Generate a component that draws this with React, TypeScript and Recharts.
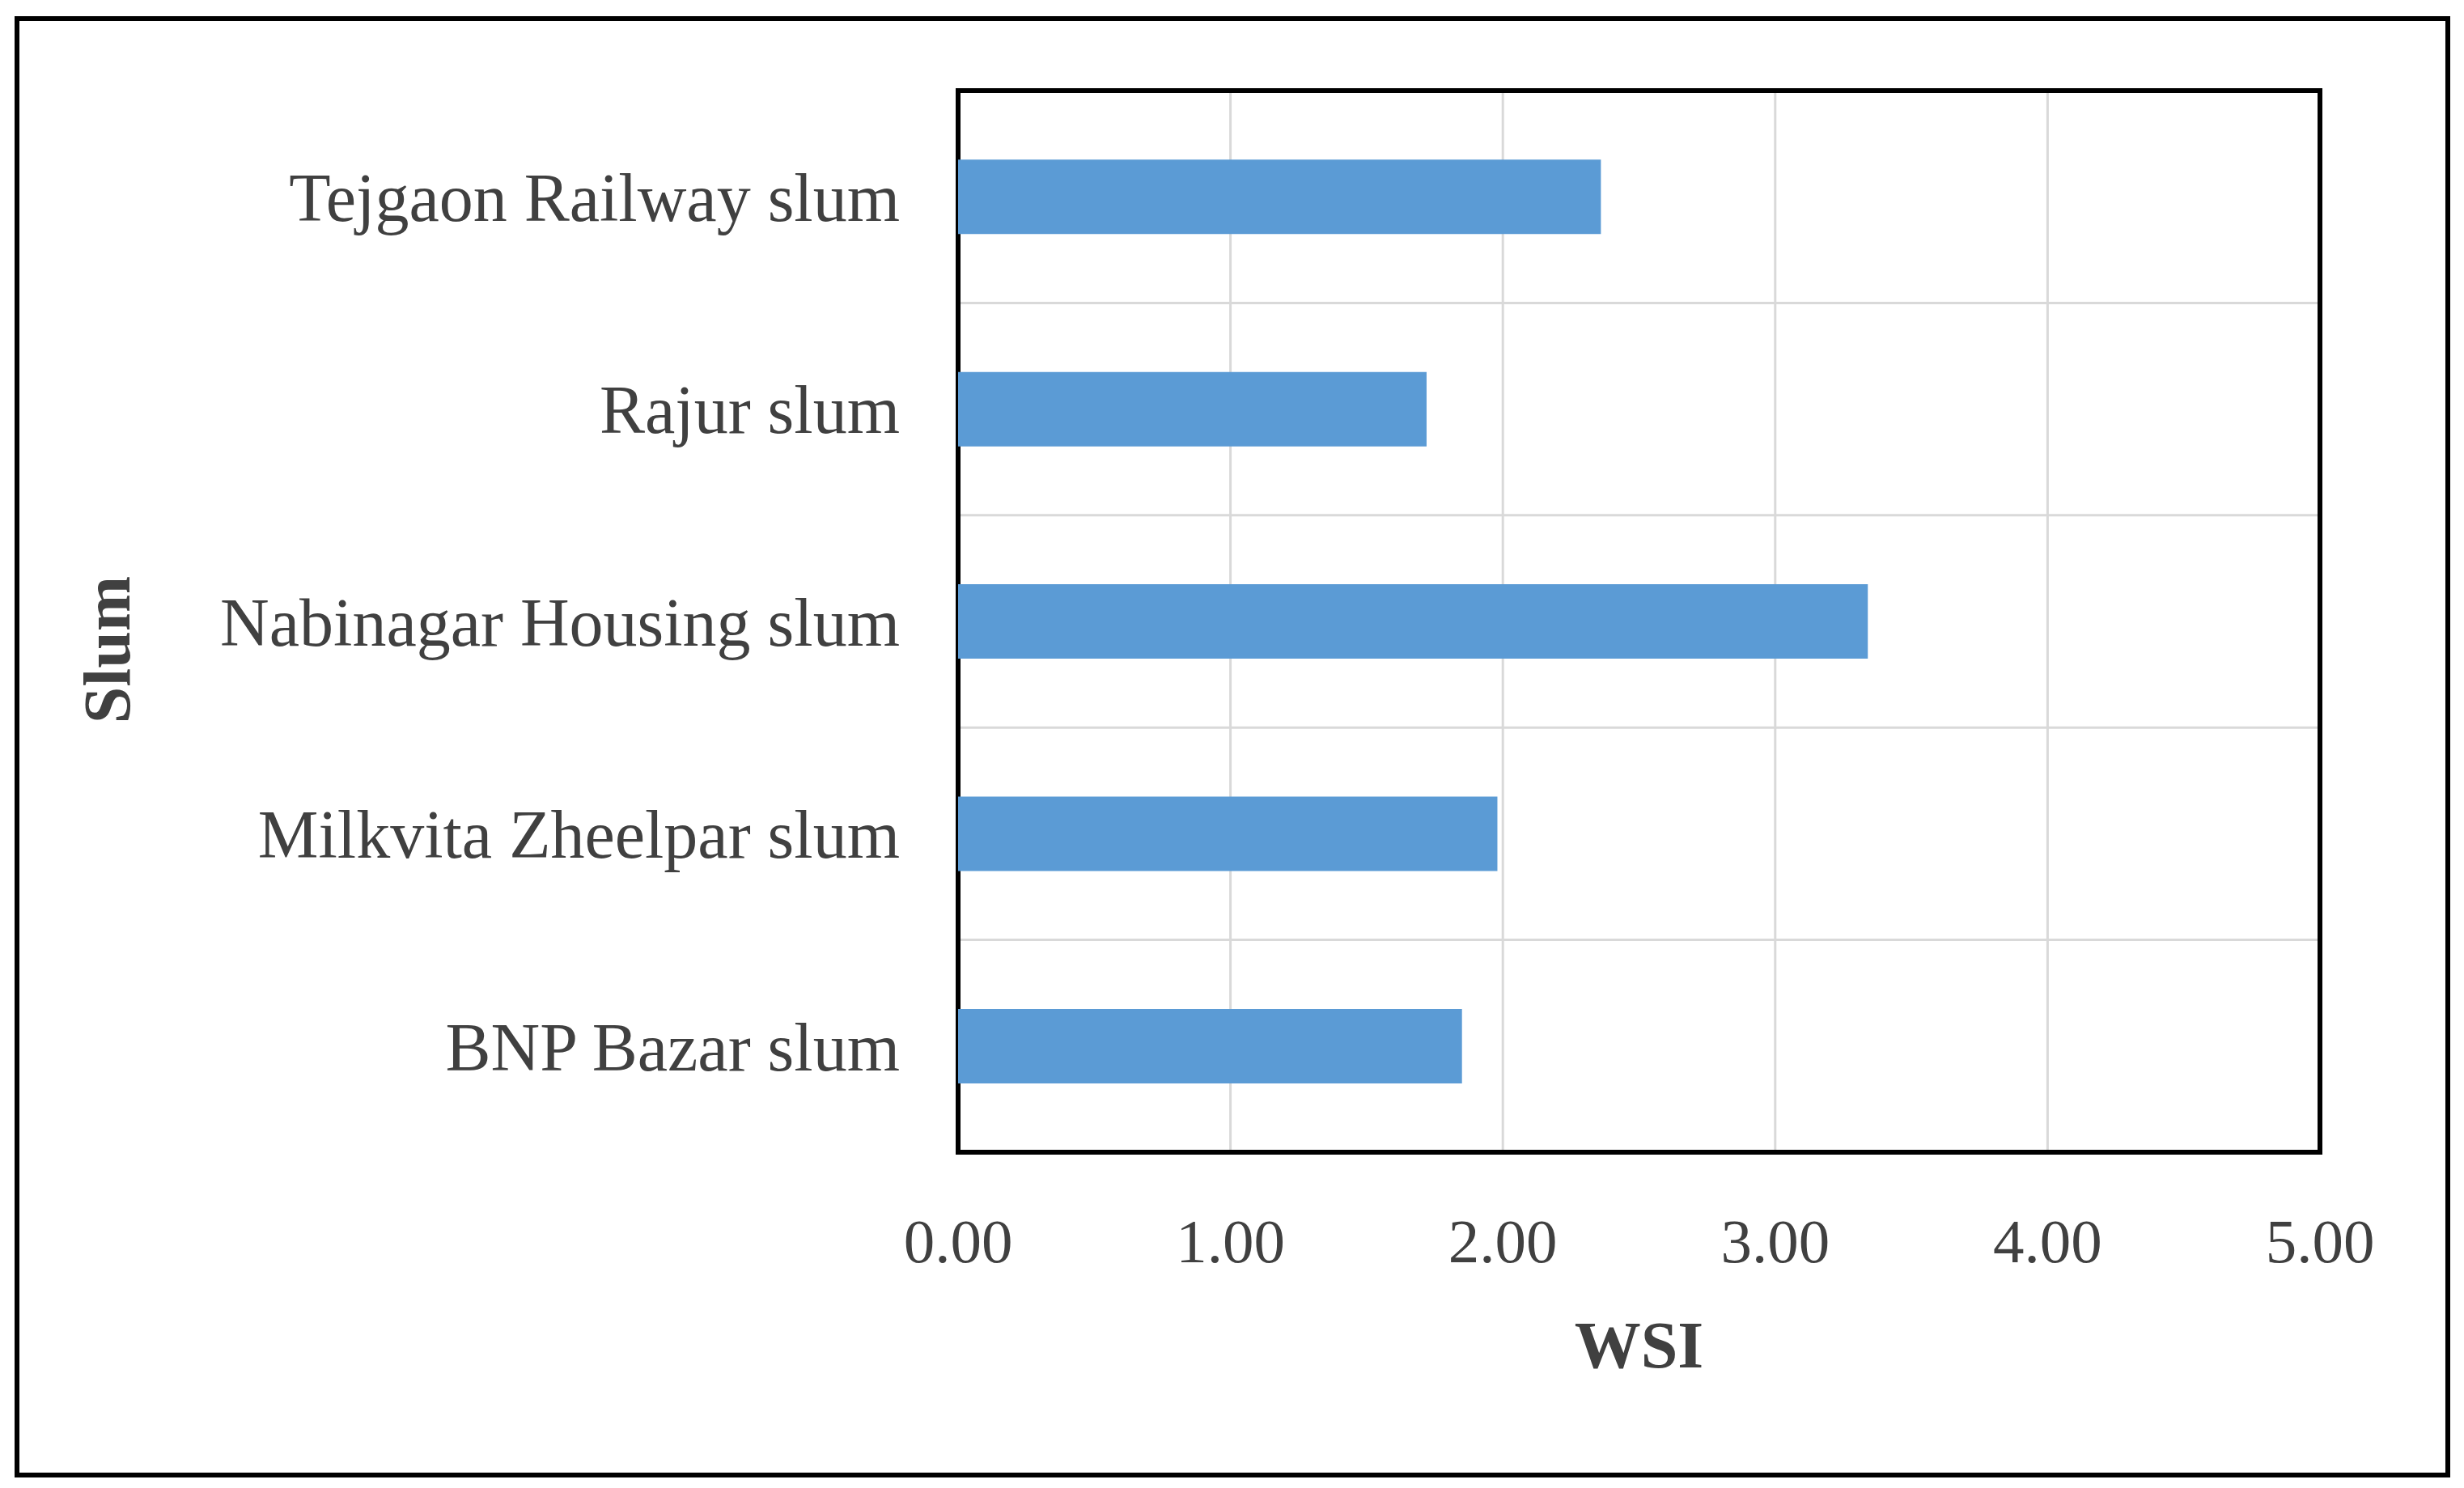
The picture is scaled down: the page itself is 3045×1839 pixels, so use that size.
import React from "react";
import {
  BarChart,
  Bar,
  XAxis,
  YAxis,
  CartesianGrid,
  ReferenceArea,
} from "recharts";

const categories = [
  "Tejgaon Railway slum",
  "Rajur slum",
  "Nabinagar Housing slum",
  "Milkvita Zheelpar slum",
  "BNP Bazar slum",
];
const wsiValues = [2.36, 1.72, 3.34, 1.98, 1.85];
const xTicks = [0, 1, 2, 3, 4, 5];

const data = categories.map((name, i) => ({ name, wsi: wsiValues[i] }));

const FONT = '"Liberation Serif", "Times New Roman", serif';
const TEXT = "#404040";

const SlumLabel = (props: any) => {
  const vb = props.viewBox || { x: 0, y: 0, width: 0, height: 0 };
  const cx = vb.x + 160;
  const cy = vb.y + vb.height / 2 + 35;
  return (
    <text
      x={cx}
      y={cy}
      transform={`rotate(-90, ${cx}, ${cy})`}
      textAnchor="middle"
      fontFamily={FONT}
      fontWeight="bold"
      fontSize={82}
      fill={TEXT}
    >
      Slum
    </text>
  );
};

const WsiLabel = (props: any) => {
  const vb = props.viewBox || { x: 0, y: 0, width: 0, height: 0 };
  return (
    <text
      x={vb.x + vb.width / 2}
      y={vb.y + 266}
      textAnchor="middle"
      fontFamily={FONT}
      fontWeight="bold"
      fontSize={82}
      fill={TEXT}
    >
      WSI
    </text>
  );
};

export default function App() {
  return (
    <div style={{ position: "absolute", left: 0, top: 0, width: 3045, height: 1839, background: "#fff" }}>
      <div
        style={{
          position: "absolute",
          left: 18,
          top: 20,
          width: 3010,
          height: 1806,
          border: "6px solid #000",
          boxSizing: "border-box",
        }}
      />
      <div style={{ position: "absolute", left: 0, top: 0 }}>
        <BarChart
          width={3045}
          height={1839}
          data={data}
          layout="vertical"
          margin={{ top: 112, right: 178, bottom: 215, left: 0 }}
          barCategoryGap="32.5%"
        >
          <CartesianGrid
            stroke="#d9d9d9"
            strokeWidth={3}
            horizontalCoordinatesGenerator={({ offset }: any) =>
              categories.slice(1).map((_, i) => offset.top + (offset.height * (i + 1)) / categories.length)
            }
          />
          <XAxis
            type="number"
            domain={[0, 5]}
            ticks={xTicks}
            interval={0}
            tickFormatter={(v: number) => v.toFixed(2)}
            axisLine={false}
            tickLine={false}
            tickSize={0}
            tickMargin={81}
            height={200}
            tick={{ fontFamily: FONT, fontSize: 77, fill: TEXT }}
            label={<WsiLabel />}
          />
          <YAxis
            type="category"
            dataKey="name"
            width={1184}
            axisLine={false}
            tickLine={false}
            tickSize={0}
            tickMargin={72}
            interval={0}
            tick={{ fontFamily: FONT, fontSize: 84, fill: TEXT }}
            label={<SlumLabel />}
          />
          <Bar dataKey="wsi" fill="#5b9bd5" isAnimationActive={false} />
          <ReferenceArea
            x1={0}
            x2={5}
            fill="none"
            fillOpacity={0}
            stroke="#000"
            strokeWidth={6}
            ifOverflow="visible"
          />
        </BarChart>
      </div>
    </div>
  );
}
